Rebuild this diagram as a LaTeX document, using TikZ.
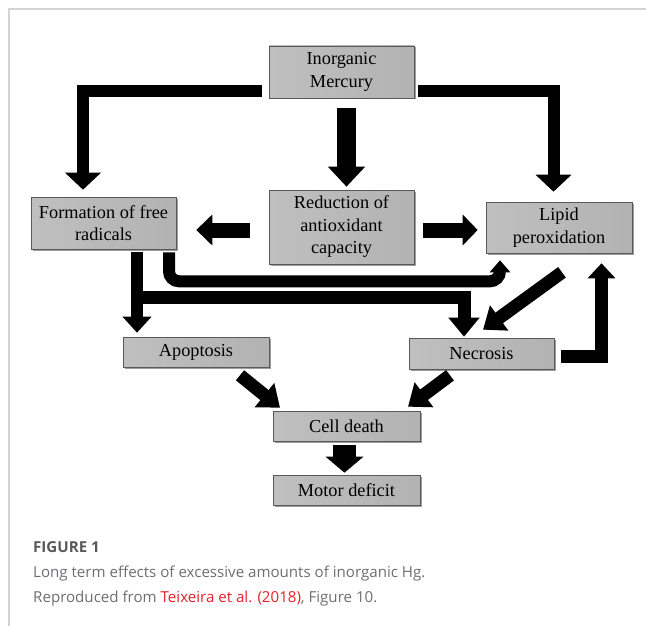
\documentclass[tikz,border=0pt]{standalone}
\usepackage{fontspec}
\setmainfont{Liberation Serif}
\newfontfamily\capfont{Open Sans}
\usetikzlibrary{arrows.meta,shadows,calc}
\definecolor{framegray}{HTML}{D4D4D4}
\definecolor{figgray}{HTML}{58595B}
\definecolor{capgray}{HTML}{6D6E71}
\definecolor{linkred}{HTML}{E3202B}
\tikzset{
  box/.style n args={2}{draw=black!65, line width=0.6pt,
    left color=gray!50, middle color=gray!18, right color=gray!60,
    drop shadow={shadow xshift=1.5pt, shadow yshift=-1.5pt, opacity=0.55, fill=black!70},
    minimum width=#1pt, minimum height=#2pt, inner sep=0pt, align=center,
    font=\fontsize{18.3}{22.5}\selectfont},
  bar/.style n args={3}{draw=black, line width=#1pt, -{Triangle[width=#2pt,length=#3pt]}},
  caption/.style={anchor=base west, inner sep=0pt, font=\capfont\fontsize{15.1}{19}\selectfont, text=capgray}
}
\begin{document}
\begin{tikzpicture}[x=1pt,y=-1pt]
\useasboundingbox (0,0) rectangle (646,626);
\draw[framegray, line width=1.5pt] (9,626) -- (9,9) -- (646,9);

% boxes
\node[box={145}{52}] (merc) at (341.5,72) {Inorganic\\Mercury};
\node[box={145}{52}] (form) at (103.5,223) {Formation of free\\radicals};
\node[box={145}{74}] (redu) at (341.5,227) {Reduction of\\antioxidant\\capacity};
\node[box={146}{51}] (lipid) at (559,227.5) {Lipid\\peroxidation};
\node[box={146}{30}] (apop) at (196,352) {Apoptosis};
\node[box={145}{31}] (necr) at (481.5,353.5) {Necrosis};
\node[box={147}{30}] (cell) at (346.5,426) {Cell death};
\node[box={147}{30}] (motor) at (346.5,490) {Motor deficit};

% connectors
\draw[bar={12}{35}{17}] ([xshift=-7pt,yshift=-19pt]merc.west) -| ([xshift=-20.5pt,yshift=7pt]form.north);
\draw[bar={12}{35}{17}] ([xshift=4pt,yshift=-19pt]merc.east) -| ([xshift=-5.5pt,yshift=10pt]lipid.north);
\draw[bar={19}{36}{20}] ([xshift=5pt,yshift=-10pt]merc.south) -- ([xshift=5pt,yshift=3pt]redu.north);
\draw[bar={15}{30}{16}] ([xshift=-19pt,yshift=-3pt]redu.west) -- ([xshift=20pt,yshift=-7pt]form.east);
\draw[bar={15}{30}{15}] ([xshift=9pt,yshift=-3pt]redu.east) -- ([xshift=-8pt,yshift=-2.5pt]lipid.west);
\coordinate (c1) at ([xshift=65.5pt,yshift=-3pt]form.south);
\coordinate (c2) at ([xshift=-59pt,yshift=-7pt]lipid.south);
\draw[bar={12}{20}{12}, rounded corners=10pt] (c1) |- ($(c2)+(0,21)$) -- (c2);
\coordinate (c3) at ([xshift=33.5pt,yshift=-3pt]form.south);
\draw[bar={12}{28}{16}] (c3) -- ([xshift=-59pt,yshift=4pt]apop.north);
\draw[bar={13}{30}{19}] ($(c3)+(-6,45)$) -| ([xshift=-17.5pt,yshift=1pt]necr.north);
\draw[bar={13}{30}{20}] ([xshift=3pt,yshift=-19pt]lipid.south) -- ([xshift=1.5pt,yshift=8pt]necr.north);
\draw[bar={13}{27}{15}] ([xshift=7pt,yshift=-3pt]necr.east) -| ([xshift=42.5pt,yshift=-10pt]lipid.south);
\draw[bar={13}{30}{20}] ([xshift=44pt,yshift=-8pt]apop.south) -- ([xshift=-66.5pt,yshift=3pt]cell.north);
\draw[bar={13}{30}{20}] ([xshift=-31.5pt,yshift=-6pt]necr.south) -- ([xshift=61.5pt,yshift=4pt]cell.north);
\draw[bar={23}{37}{16}] ([xshift=-2pt,yshift=-4pt]cell.south) -- ([xshift=-2pt,yshift=2pt]motor.north);

% caption
\node[caption, text=figgray, font=\capfont\bfseries\fontsize{15.1}{19}\selectfont] (fig) at (33,552) {FIGURE 1};
\node[caption] (cap1) at (33,577) {Long term effects of excessive amounts of inorganic Hg.};
\node[caption] (cap2) at (33,602) {Reproduced from \textcolor{linkred}{Teixeira et al. (2018)}, Figure 10.};
\end{tikzpicture}
\end{document}
